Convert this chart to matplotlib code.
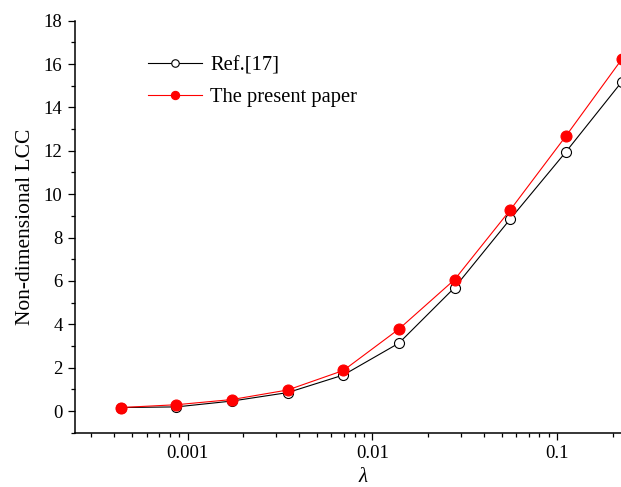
import matplotlib
matplotlib.use("Agg")
import matplotlib.pyplot as plt
from matplotlib.ticker import MultipleLocator, FixedLocator, FixedFormatter, LogLocator, NullFormatter

plt.rcParams["font.family"] = ["Liberation Serif", "DejaVu Serif"]

# lambda values and non-dimensional LCC for both data sets
lam = [0.000435, 0.00087, 0.00174, 0.00348, 0.00696, 0.0139, 0.0278, 0.0557, 0.111, 0.223]
lcc_ref = [0.16, 0.19, 0.46, 0.85, 1.66, 3.13, 5.69, 8.86, 11.94, 15.18]
lcc_present = [0.16, 0.29, 0.53, 0.97, 1.87, 3.78, 6.06, 9.28, 12.67, 16.22]

fig = plt.figure(figsize=(6.21, 4.87), dpi=100)
ax = fig.add_axes([0.1208, 0.1115, 0.9275, 0.846])

ax.plot(lam, lcc_ref, color="black", lw=0.8, marker="o", ms=7.2,
        mfc="white", mec="black", mew=0.8, label="Ref.[17]", clip_on=False, zorder=3)
ax.plot(lam, lcc_present, color="red", lw=0.8, marker="o", ms=7.9,
        mfc="red", mec="red", mew=0.8, label="The present paper", clip_on=False, zorder=4)

ax.set_xscale("log")
ax.set_xlim(0.000246, 0.321)
ax.set_ylim(-1, 18)

ax.xaxis.set_major_locator(FixedLocator([0.001, 0.01, 0.1]))
ax.xaxis.set_major_formatter(FixedFormatter(["0.001", "0.01", "0.1"]))
ax.xaxis.set_minor_locator(LogLocator(base=10, subs=range(2, 10)))
ax.xaxis.set_minor_formatter(NullFormatter())
ax.yaxis.set_major_locator(MultipleLocator(2))
ax.yaxis.set_minor_locator(MultipleLocator(1))

for side in ["top", "right"]:
    ax.spines[side].set_visible(False)
for side in ["left", "bottom"]:
    ax.spines[side].set_linewidth(1.1)

ax.tick_params(which="major", direction="out", length=5, width=0.9, labelsize=13.5, pad=4)
ax.tick_params(which="minor", direction="out", length=2.8, width=0.9)

ax.set_ylabel("Non-dimensional LCC", fontsize=15.5, labelpad=6)
ax.set_xlabel("λ", fontsize=15, style="italic", labelpad=4)

ax.legend(loc="upper left", bbox_to_anchor=(0.113, 0.935), frameon=False,
          fontsize=14.8, markerscale=0.75, handlelength=2.6, handletextpad=0.4,
          labelspacing=0.62, borderaxespad=0)

fig.savefig("out.png", dpi=100)
